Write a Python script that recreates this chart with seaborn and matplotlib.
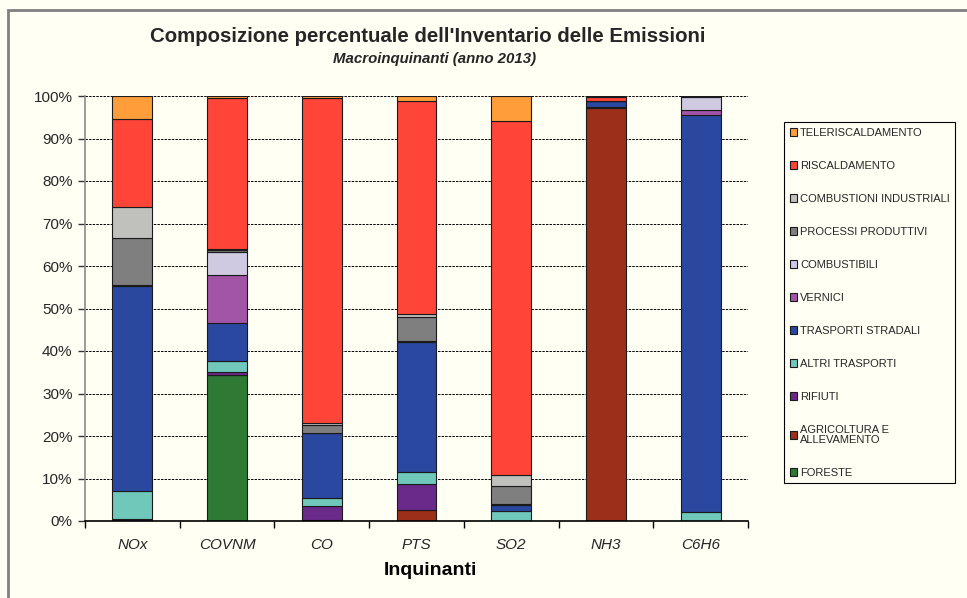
import numpy as np
import pandas as pd
import matplotlib.pyplot as plt
import seaborn as sns
from matplotlib.patches import Patch, Rectangle
from matplotlib.ticker import PercentFormatter, FixedLocator

# Data (percent share of each source, per pollutant)
pollutants = ["NOx", "COVNM", "CO", "PTS", "SO2", "NH3", "C6H6"]

teleriscaldamento = [5.5, 0.4, 0.5, 1.2, 5.9, 0.2, 0.0]
riscaldamento = [20.7, 35.5, 76.5, 50.2, 83.3, 0.9, 0.0]
combustioni_industriali = [7.1, 0.3, 0.3, 0.5, 2.5, 0.0, 0.0]
processi_produttivi = [11.2, 0.4, 1.9, 5.7, 4.3, 0.0, 0.2]
combustibili = [0.2, 5.5, 0.1, 0.3, 0.2, 0.0, 3.1]
vernici = [0.0, 11.4, 0.0, 0.0, 0.0, 0.0, 1.2]
trasporti_stradali = [48.3, 8.9, 15.3, 30.5, 1.4, 1.5, 93.3]
altri_trasporti = [6.6, 2.5, 1.8, 3.0, 2.4, 0.0, 2.2]
rifiuti = [0.3, 0.7, 3.3, 6.0, 0.0, 0.3, 0.0]
agricoltura = [0.1, 0.0, 0.3, 2.6, 0.0, 97.1, 0.0]
foreste = [0.0, 34.4, 0.0, 0.0, 0.0, 0.0, 0.0]

# legend order (top of the stack first)
sources = ["TELERISCALDAMENTO", "RISCALDAMENTO", "COMBUSTIONI INDUSTRIALI",
           "PROCESSI PRODUTTIVI", "COMBUSTIBILI", "VERNICI",
           "TRASPORTI STRADALI", "ALTRI TRASPORTI", "RIFIUTI",
           "AGRICOLTURA E\nALLEVAMENTO", "FORESTE"]
series = [teleriscaldamento, riscaldamento, combustioni_industriali,
          processi_produttivi, combustibili, vernici, trasporti_stradali,
          altri_trasporti, rifiuti, agricoltura, foreste]
colors = ["#FF9D3B", "#FF4438", "#C0C0BC", "#7F7F7F", "#CFCAE2", "#A255A6",
          "#2B48A0", "#70C8BA", "#6A2A8A", "#9C2F1A", "#2E7A35"]
palette = dict(zip(sources, colors))

rows = []
for src, vals in zip(sources, series):
    for pol, v in zip(pollutants, vals):
        rows.append({"Inquinante": pol, "Fonte": src, "Valore": v})
df = pd.DataFrame(rows)

bg = "#FFFFF4"
sns.set_theme(style="white")
plt.rcParams["font.family"] = ["Liberation Sans", "DejaVu Sans"]

fig = plt.figure(figsize=(9.67, 5.98), dpi=100, facecolor=bg)
ax = fig.add_axes([85 / 967, 77 / 598, 663 / 967, 425 / 598])
ax.set_facecolor(bg)

sns.histplot(data=df, x="Inquinante", hue="Fonte", weights="Valore",
             hue_order=sources, palette=palette, multiple="fill",
             discrete=True, shrink=0.42, alpha=1, edgecolor="#1a1a1a",
             linewidth=0.8, legend=False, ax=ax)

ax.set_xlim(-0.5, len(pollutants) - 0.5)
ax.set_ylim(0, 1)
ax.set_yticks(np.arange(0, 1.01, 0.1))
ax.yaxis.set_major_formatter(PercentFormatter(1.0, decimals=0))
ax.yaxis.grid(True, linestyle=(0, (2.5, 1.2)), color="black", linewidth=0.7)
ax.set_axisbelow(True)

ax.set_xticks(range(len(pollutants)))
ax.set_xticklabels(pollutants, fontstyle="italic", fontsize=11)
ax.xaxis.set_minor_locator(FixedLocator(np.arange(-0.5, len(pollutants), 1)))
ax.tick_params(axis="x", which="major", length=0, pad=12)
ax.tick_params(axis="x", which="minor", length=5, width=1, color="black",
               direction="out", bottom=True)
ax.tick_params(axis="y", length=5, width=1, color="#333333", left=True,
               labelsize=11, pad=4)

for s in ["top", "right"]:
    ax.spines[s].set_visible(False)
ax.spines["left"].set_color("#8a8a8a")
ax.spines["left"].set_linewidth(1.2)
ax.spines["bottom"].set_color("black")
ax.spines["bottom"].set_linewidth(1.2)

ax.set_ylabel("")
ax.set_xlabel("Inquinanti", fontsize=14, fontweight="bold", color="black")
ax.xaxis.set_label_coords((430 - 85) / 663, (521 - 562) / 425)

fig.text(428 / 967, 1 - 37 / 598,
         "Composizione percentuale dell'Inventario delle Emissioni",
         ha="center", va="center", fontsize=14.7, fontweight="bold")
fig.text(435 / 967, 1 - 59 / 598, "Macroinquinanti (anno 2013)",
         ha="center", va="center", fontsize=10.8, fontweight="bold",
         fontstyle="italic")

handles = [Patch(facecolor=palette[s], edgecolor="#1a1a1a", linewidth=0.8)
           for s in sources]
leg = fig.legend(handles, sources, loc="upper left",
                 bbox_to_anchor=(784 / 967, 1 - 122 / 598),
                 borderaxespad=0, fontsize=8, frameon=True, fancybox=False,
                 edgecolor="black", facecolor=bg, framealpha=1,
                 handlelength=0.7, handleheight=0.7, handletextpad=0.25,
                 labelspacing=2.07, borderpad=0.5)
leg.get_frame().set_linewidth(0.8)
for t in leg.get_texts():
    t.set_linespacing(1.0)

# outer chart frame (cropped at right and bottom)
fig.patches.append(Rectangle((8 / 967, -0.2), 1.5, 1 - 10 / 598 + 0.2,
                             transform=fig.transFigure, fill=False,
                             edgecolor="#808080", linewidth=2))

fig.savefig("out.png", dpi=100, facecolor=bg)
